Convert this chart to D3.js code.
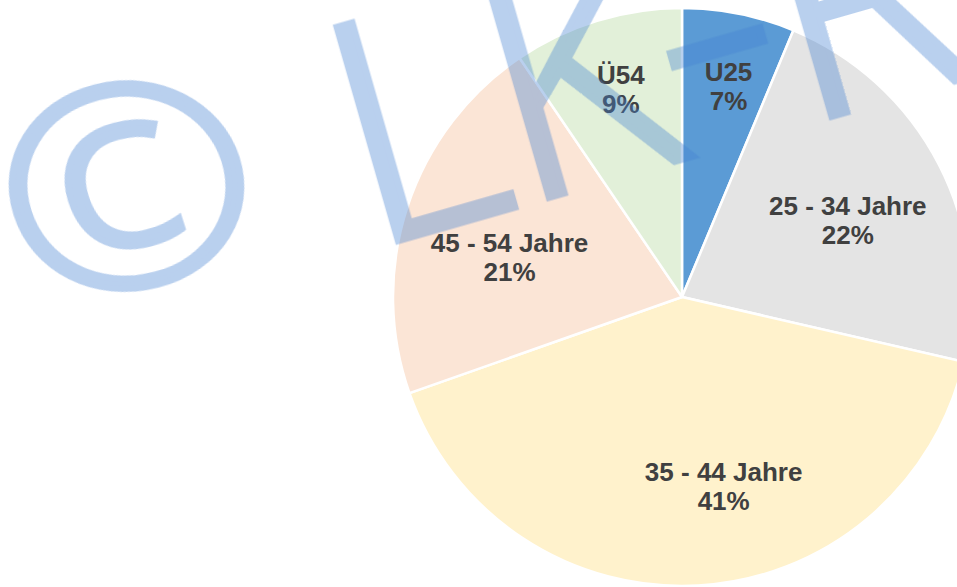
<!DOCTYPE html>
<html>
<head>
<meta charset="utf-8">
<script src="https://cdn.jsdelivr.net/npm/d3@7"></script>
<style>
  html, body { margin: 0; padding: 0; background: #ffffff; }
  svg { display: block; }
</style>
</head>
<body>
<svg id="chart" width="957" height="587"></svg>
<script>
// ---- data ----
const categories  = ["U25", "25 - 34 Jahre", "35 - 44 Jahre", "45 - 54 Jahre", "Ü54"];
const shares      = [6.3, 22.3, 41.0, 20.9, 9.5];          // slice sizes as drawn
const shareLabels = ["7%", "22%", "41%", "21%", "9%"];     // printed percentages
const sliceColors = ["#5B9BD5", "#E4E4E4", "#FFF2CC", "#FBE5D6", "#E2F0D9"];

// ---- layout ----
const W = 957, H = 587;
const cx = 682, cy = 297, R = 289;
const labelAngleDeg = [12.4, 65.0, 167.6, 283.2, 343.6];
const labelRadiusFr = [0.749, 0.633, 0.671, 0.613, 0.749];

const rows = categories.map((c, i) => ({
  cat: c, value: shares[i], label: shareLabels[i], color: sliceColors[i],
  la: labelAngleDeg[i], lr: labelRadiusFr[i]
}));

const svg = d3.select("#chart");
svg.append("rect").attr("width", W).attr("height", H).attr("fill", "#ffffff");

const pie = d3.pie().sort(null).value(d => d.value).startAngle(0).endAngle(2 * Math.PI);
const arc = d3.arc().innerRadius(0).outerRadius(R);

const g = svg.append("g").attr("transform", `translate(${cx},${cy})`);

g.selectAll("path.slice")
  .data(pie(rows))
  .join("path")
  .attr("class", "slice")
  .attr("d", arc)
  .attr("fill", d => d.data.color)
  .attr("stroke", "#ffffff")
  .attr("stroke-width", 2.5)
  .attr("stroke-linejoin", "round");

const labels = g.selectAll("text.lbl")
  .data(rows)
  .join("text")
  .attr("class", "lbl")
  .attr("text-anchor", "middle")
  .attr("font-family", "'Liberation Sans', Arial, sans-serif")
  .attr("font-weight", "bold")
  .attr("font-size", 26)
  .attr("fill", "#404040")
  .attr("transform", d => {
    const a = d.la * Math.PI / 180;
    const x = Math.sin(a) * d.lr * R;
    const y = -Math.cos(a) * d.lr * R;
    return `translate(${x},${y})`;
  });
labels.append("tspan").attr("x", 0).attr("y", -5).text(d => d.cat);
labels.append("tspan").attr("x", 0).attr("y", 24).text(d => d.label);

// ---- watermark (semi-transparent layer on top) ----
const wmFont = "'Open Sans', Lato, Roboto, sans-serif";
const wmColor = "rgb(70,130,210)";
const wmLayer = svg.append("g").attr("opacity", 0.38);

function wmStyle(sel) {
  return sel.attr("font-family", wmFont)
    .attr("font-weight", 300)
    .attr("font-size", 311)
    .attr("fill", wmColor)
    .attr("stroke", wmColor)
    .attr("stroke-width", 7)
    .attr("stroke-linejoin", "miter");
}

// copyright sign (slightly flattened, as in the reference)
wmStyle(wmLayer.append("text"))
  .attr("transform", "translate(124,178) scale(1,0.9) rotate(-16)")
  .attr("text-anchor", "middle")
  .attr("dominant-baseline", "central")
  .text("©");

const wmGlyphs = ["L", "K", "-", "R"];
const wmX = [-186, -29, 144, 265];
const wmY = [0, 0, -14, 0];
const wm = wmStyle(wmLayer.append("text"))
  .attr("transform", "translate(547,198) rotate(-16)");
wmGlyphs.forEach((ch, i) => {
  const t = wm.append("tspan").attr("x", wmX[i]).attr("y", wmY[i]).text(ch);
  if (ch === "-") t.attr("textLength", 122).attr("lengthAdjust", "spacingAndGlyphs");
});
</script>
</body>
</html>
